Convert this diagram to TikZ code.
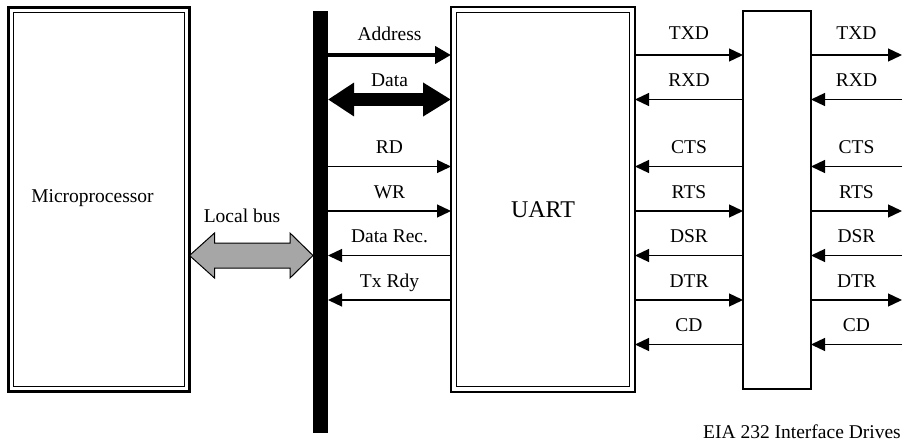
\documentclass[tikz,border=0pt]{standalone}
\usepackage{fontspec}
\setmainfont{Liberation Serif}
\usepackage{tikz}
\usetikzlibrary{arrows.meta,calc}
\definecolor{BusGray}{HTML}{A6A6A6}

\begin{document}
\begin{tikzpicture}[x=1pt,y=-1pt,>={Triangle[length=14pt,width=13pt]},
  every node/.style={font=\fontsize{19.5}{22}\selectfont}]
  \tikzstyle{chip}=[draw,line width=2.5pt,inner sep=0pt,outer sep=0pt]
  \tikzstyle{inner}=[line width=1pt]
  \tikzstyle{sig}=[->,line width=1.3pt]
  \tikzstyle{lbl}=[midway,anchor=base,yshift=13pt,inner sep=0pt]
  \useasboundingbox (0,0) rectangle (905,441);
  % blocks
  \node[chip,minimum width=181pt,minimum height=384pt] (mp) at (99,199.5) {};
  \node[chip,minimum width=184pt,minimum height=385pt] (uart) at (543,199.5) {};
  \node[draw,line width=1.5pt,inner sep=0pt,outer sep=0pt,
    minimum width=68pt,minimum height=378pt] (drv) at (777,200) {};
  \node[fill=black,inner sep=0pt,outer sep=0pt,
    minimum width=15pt,minimum height=422pt] (bus) at (320.5,222) {};
  \draw[inner] ([shift={(5,5)}]mp.north west) rectangle ([shift={(-5,-5)}]mp.south east);
  \draw[inner] ([shift={(5.5,5.5)}]uart.north west) rectangle ([shift={(-5.5,-5.5)}]uart.south east);
  \node[anchor=base,inner sep=0pt] (mptext) at (92.5,202) {Microprocessor};
  \node[anchor=base,inner sep=0pt,font=\fontsize{24}{28}\selectfont] (uarttext) at (543,217) {UART};
  \node[anchor=base,inner sep=0pt] (lbtext) at (242,222) {Local bus};
  \node[anchor=base east,inner sep=0pt] (eia) at (901,438) {EIA 232 Interface Drives};
  % local bus
  \coordinate (lbw) at (mp.east |- 0,255.5);
  \coordinate (lbe) at (bus.west |- 0,255.5);
  \draw[fill=BusGray,line width=1pt,line join=miter] (lbw) -- ++(25,-22.5) -- ++(0,10)
    -- ($(lbe)+(-23,-12.5)$) -- ++(0,-10) -- (lbe) -- ++(-23,22.5) -- ++(0,-10)
    -- ($(lbw)+(25,12.5)$) -- ++(0,10) -- cycle;
  % bus to UART
  \draw[-{Triangle[length=16pt,width=17pt]},line width=4pt] (bus.east |- 0,55) -- (uart.west |- 0,55)
    node[lbl,yshift=1pt] {Address};
  \draw[{Triangle[length=26pt,width=32pt]}-{Triangle[length=28pt,width=32pt]},line width=13pt]
    (bus.east |- 0,99.5) -- (uart.west |- 0,99.5) node[lbl] {Data};
  \draw[sig] (bus.east |- 0,166.5) -- (uart.west |- 0,166.5) node[lbl] {RD};
  \draw[sig] (bus.east |- 0,211) -- (uart.west |- 0,211) node[lbl] {WR};
  \draw[sig] (uart.west |- 0,255.5) -- (bus.east |- 0,255.5) node[lbl] {Data Rec.};
  \draw[sig] (uart.west |- 0,300) -- (bus.east |- 0,300) node[lbl] {Tx Rdy};
  % UART to drivers
  \draw[sig] (uart.east |- 0,55) -- (drv.west |- 0,55) node[lbl,yshift=2pt] {TXD};
  \draw[sig] (drv.west |- 0,99.5) -- (uart.east |- 0,99.5) node[lbl] {RXD};
  \draw[sig] (drv.west |- 0,166.5) -- (uart.east |- 0,166.5) node[lbl] {CTS};
  \draw[sig] (uart.east |- 0,211) -- (drv.west |- 0,211) node[lbl] {RTS};
  \draw[sig] (drv.west |- 0,255.5) -- (uart.east |- 0,255.5) node[lbl] {DSR};
  \draw[sig] (uart.east |- 0,300) -- (drv.west |- 0,300) node[lbl] {DTR};
  \draw[sig] (drv.west |- 0,344.5) -- (uart.east |- 0,344.5) node[lbl] {CD};
  % drivers to line
  \coordinate (edge) at (902,0);
  \draw[sig] (drv.east |- 0,55) -- (edge |- 0,55) node[lbl,yshift=2pt] {TXD};
  \draw[sig] (edge |- 0,99.5) -- (drv.east |- 0,99.5) node[lbl] {RXD};
  \draw[sig] (edge |- 0,166.5) -- (drv.east |- 0,166.5) node[lbl] {CTS};
  \draw[sig] (drv.east |- 0,211) -- (edge |- 0,211) node[lbl] {RTS};
  \draw[sig] (edge |- 0,255.5) -- (drv.east |- 0,255.5) node[lbl] {DSR};
  \draw[sig] (drv.east |- 0,300) -- (edge |- 0,300) node[lbl] {DTR};
  \draw[sig] (edge |- 0,344.5) -- (drv.east |- 0,344.5) node[lbl] {CD};
\end{tikzpicture}
\end{document}
